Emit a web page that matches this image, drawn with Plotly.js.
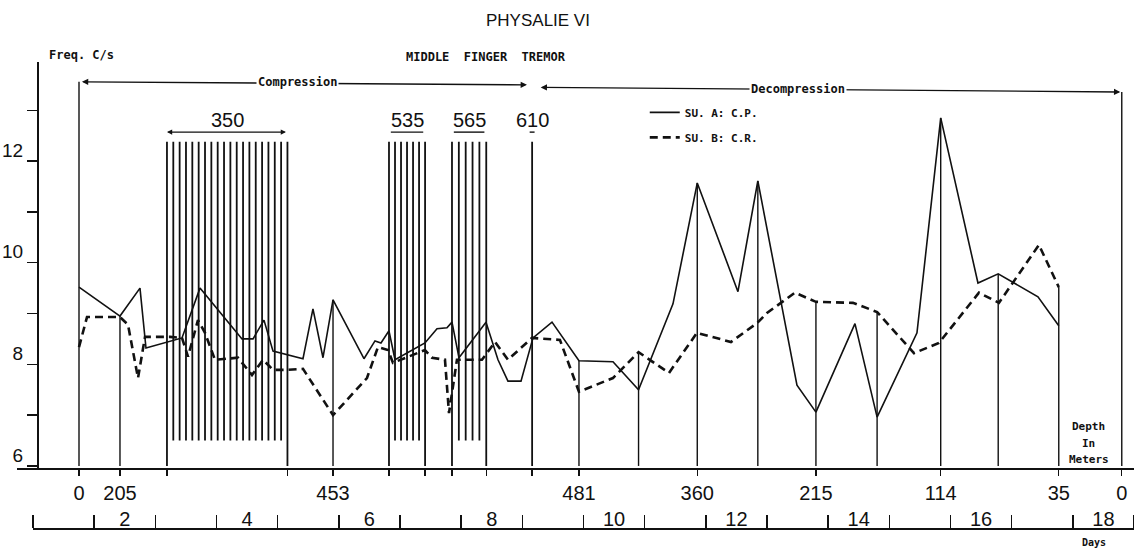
<!DOCTYPE html>
<html><head><meta charset="utf-8">
<script src="https://cdn.plot.ly/plotly-3.0.1.min.js"></script>
<style>html,body{margin:0;padding:0;background:#fff}#chart{width:1134px;height:551px}</style>
</head><body><div id="chart"></div>
<script>
// ---- data (x in days, y in c/s) ----
const suA_days = [0.752, 1.422, 1.749, 1.847, 2.436, 2.730, 3.417, 3.597, 3.776, 3.924, 4.414, 4.577, 4.741, 4.905, 5.411, 5.591, 5.689, 5.820, 5.918, 6.408, 6.605, 6.768, 6.850, 6.964, 7.406, 7.602, 7.765, 7.978, 8.174, 8.485, 8.926, 9.482, 9.900, 10.463, 10.860, 11.525, 11.850, 12.490, 12.800, 13.438, 13.800, 14.452, 14.840, 15.449, 15.780, 16.430, 16.770];
const suA_freq = [9.52, 8.95, 9.50, 8.32, 8.52, 9.50, 8.50, 8.50, 8.87, 8.26, 8.11, 9.09, 8.13, 9.27, 8.11, 8.46, 8.42, 8.66, 8.09, 8.42, 8.70, 8.72, 8.83, 8.13, 8.83, 8.09, 7.67, 7.67, 8.52, 8.83, 8.07, 8.05, 7.50, 9.19, 11.57, 9.43, 11.61, 7.59, 7.06, 8.80, 6.96, 8.62, 12.85, 9.60, 9.78, 9.33, 8.76];

const suB_days = [0.752, 0.883, 1.422, 1.553, 1.717, 1.831, 2.240, 2.436, 2.534, 2.697, 2.812, 2.975, 3.351, 3.580, 3.760, 3.924, 4.152, 4.414, 4.905, 5.460, 5.640, 5.804, 5.885, 6.408, 6.523, 6.735, 6.801, 6.931, 7.340, 7.553, 7.765, 8.158, 8.615, 8.926, 9.482, 9.900, 10.397, 10.855, 11.411, 11.836, 12.000, 12.457, 12.800, 13.405, 13.800, 14.403, 14.811, 15.465, 15.792, 16.446, 16.770];
const suB_freq = [8.34, 8.93, 8.93, 8.78, 7.73, 8.54, 8.54, 8.52, 8.15, 8.87, 8.62, 8.09, 8.13, 7.79, 8.09, 7.89, 7.89, 7.91, 7.00, 7.73, 8.34, 8.28, 8.03, 8.28, 8.13, 8.09, 7.04, 8.09, 8.09, 8.44, 8.09, 8.52, 8.48, 7.46, 7.73, 8.24, 7.83, 8.62, 8.44, 8.81, 9.01, 9.41, 9.23, 9.21, 9.03, 8.22, 8.42, 9.41, 9.21, 10.35, 9.52];

// depth (metres) labels on the time axis
const depthDays   = [0.752, 1.422, 4.905, 8.926, 10.860, 12.800, 14.840, 16.770, 17.800];
const depthLabels = ['0', '205', '453', '481', '360', '215', '114', '35', '0'];

// measurement verticals: day and top value
const readingDays = [0.752, 1.422, 4.905, 8.926, 9.900, 10.860, 11.850, 12.800, 13.800, 14.840, 15.780, 16.770, 17.800];
const readingTops = [13.56, 8.95, 9.27, 8.07, 8.24, 11.57, 11.61, 9.23, 9.03, 12.85, 9.78, 9.52, 13.36];

// depth plateaus (hatched)
const plateauLabels = ['350', '535', '565', '610'];
const plateauStart  = [2.19, 5.82, 6.85, 8.16];
const plateauEnd    = [4.16, 6.41, 7.41, 8.16];
const plateauCount  = [20, 7, 6, 1];
const plateauTop = 12.38, plateauBottom = 6.5;

// day axis
const dayNumbers = [2, 4, 6, 8, 10, 12, 14, 16, 18];
const yTickVals  = [6, 7, 8, 9, 10, 11, 12, 13];
const yTickText  = ['6', '', '8', '', '10', '', '12', ''];

// ---- build ----
const INK = '#111';
const hx = [], hy = [];
plateauLabels.forEach((lab, k) => {
  const n = plateauCount[k], s = plateauStart[k], e = plateauEnd[k];
  for (let i = 0; i < n; i++) {
    const x = n === 1 ? s : s + i * (e - s) / (n - 1);
    const edge = (i === 0 || i === n - 1);
    hx.push(x, x, null);
    hy.push(edge ? 6 : plateauBottom, plateauTop, null);
  }
});
const vx = [], vy = [];
readingDays.forEach((d, i) => { vx.push(d, d, null); vy.push(6, readingTops[i], null); });

const tickVals = depthDays.slice(), tickText = depthLabels.slice();
plateauLabels.forEach((l, k) => {
  tickVals.push(plateauStart[k]); tickText.push('');
  if (plateauEnd[k] !== plateauStart[k]) { tickVals.push(plateauEnd[k]); tickText.push(''); }
});

const traces = [
  {x: hx, y: hy, mode: 'lines', line: {color: INK, width: 1.8}, showlegend: false, hoverinfo: 'skip'},
  {x: vx, y: vy, mode: 'lines', line: {color: INK, width: 1.4}, showlegend: false, hoverinfo: 'skip'},
  {x: suA_days, y: suA_freq, mode: 'lines', name: 'SU. A: C.P.', legendgroup: 'a',
   line: {color: INK, width: 1.6}},
  {x: suB_days, y: suB_freq, mode: 'lines', name: 'SU. B: C.R.', legendgroup: 'b',
   line: {color: INK, width: 2.6, dash: '8px,5px'}},
  {x: [0], y: [null], xaxis: 'x2', yaxis: 'y', mode: 'lines', showlegend: false, hoverinfo: 'skip'}
];

const mono = {family: 'DejaVu Sans Mono', size: 12, color: INK, weight: 'bold'};
const num = {family: 'Liberation Sans', size: 20, color: INK};
const small = s => Object.assign({}, mono, {size: s});
const txt = (o) => Object.assign({showarrow: false, xanchor: 'center', yanchor: 'middle'}, o);

const annotations = [
  txt({xref: 'paper', yref: 'paper', x: 0.0573, y: 1.015, text: 'Freq. C/s', font: mono}),
  txt({xref: 'paper', yref: 'paper', x: 0.4199, y: 1.0107, text: 'MIDDLE  FINGER  TREMOR', font: mono}),
  // compression / decompression brackets
  {xref: 'x', yref: 'y', axref: 'x', ayref: 'y', x: 0.80, y: 13.56, ax: 8.10, ay: 13.50, text: '',
   showarrow: true, arrowside: 'end+start', arrowhead: 2, startarrowhead: 2, arrowsize: 0.9, startarrowsize: 0.9, arrowwidth: 1.4, arrowcolor: INK},
  {xref: 'x', yref: 'y', axref: 'x', ayref: 'y', x: 8.30, y: 13.45, ax: 17.80, ay: 13.36, text: '',
   showarrow: true, arrowside: 'end+start', arrowhead: 2, startarrowhead: 2, arrowsize: 0.9, startarrowsize: 0.9, arrowwidth: 1.4, arrowcolor: INK},
  txt({xref: 'x', yref: 'y', x: 4.32, y: 13.55, text: 'Compression', font: mono, bgcolor: '#fff'}),
  txt({xref: 'x', yref: 'y', x: 12.51, y: 13.42, text: 'Decompression', font: mono, bgcolor: '#fff'}),
  // depth / days captions
  txt({xref: 'x', yref: 'y', x: 17.26, y: 6.77, text: 'Depth', font: small(11)}),
  txt({xref: 'x', yref: 'y', x: 17.26, y: 6.45, text: 'In', font: small(11)}),
  txt({xref: 'x', yref: 'y', x: 17.26, y: 6.13, text: 'Meters', font: small(11)}),
  txt({xref: 'paper', yref: 'paper', x: 0.964, y: -0.032, text: 'Days', font: small(10)})
];
const shapes = [];
plateauLabels.forEach((lab, k) => {
  const mid = (plateauStart[k] + plateauEnd[k]) / 2;
  annotations.push(txt({xref: 'x', yref: 'y', x: mid, y: 12.81, text: lab, font: num}));
  if (plateauCount[k] > 12) {
    annotations.push({xref: 'x', yref: 'y', axref: 'x', ayref: 'y', x: plateauStart[k], y: 12.57, ax: plateauEnd[k], ay: 12.57,
      text: '', showarrow: true, arrowside: 'end+start', arrowhead: 2, startarrowhead: 2, arrowsize: 0.8, startarrowsize: 0.8, arrowwidth: 1.3, arrowcolor: INK});
  } else {
    const s = plateauEnd[k] === plateauStart[k] ? plateauStart[k] - 0.04 : plateauStart[k] + 0.03;
    const e = plateauEnd[k] === plateauStart[k] ? plateauStart[k] + 0.04 : plateauEnd[k] - 0.03;
    shapes.push({type: 'line', xref: 'x', yref: 'y', x0: s, x1: e, y0: 12.57, y1: 12.57, line: {color: INK, width: 1.4}});
  }
});

const layout = {
  width: 1134, height: 551,
  margin: {l: 17, r: 0, t: 62, b: 23},
  paper_bgcolor: '#fff', plot_bgcolor: 'rgba(0,0,0,0)',
  title: {text: 'PHYSALIE VI', x: 0.4744, y: 0.9637, xanchor: 'center', yanchor: 'middle',
          font: {family: 'Liberation Sans', size: 17, color: INK}},
  xaxis: {domain: [0, 1], range: [-0.2616, 18.0], anchor: 'y', showline: true, linecolor: INK, linewidth: 1.6,
          tickmode: 'array', tickvals: tickVals, ticktext: tickText, ticks: 'outside', ticklen: 6, tickwidth: 1.4,
          tickcolor: INK, showgrid: false, zeroline: false, tickfont: num, ticklabelstandoff: 0},
  yaxis: {domain: [0.1288, 1], range: [5.96, 13.95], anchor: 'free', position: 0.0179, showline: true,
          linecolor: INK, linewidth: 1.6, tickmode: 'array', tickvals: yTickVals, ticktext: yTickText,
          ticks: 'outside', ticklen: 10, tickwidth: 1.4, tickcolor: INK, ticklabelshift: -11,
          showgrid: false, zeroline: false, tickfont: {family: 'Liberation Sans', size: 19, color: INK}},
  xaxis2: {domain: [0.01432, 1], range: [0, 18], anchor: 'free', position: 0, side: 'top', showline: true,
           linecolor: INK, linewidth: 1.6, tickmode: 'array', tickvals: dayNumbers.map(n => n - 0.5),
           ticktext: dayNumbers.map(String), ticks: '', showgrid: false, zeroline: false, tickfont: num,
           ticklabelstandoff: -6,
           minor: {tickmode: 'linear', tick0: 0, dtick: 1, ticks: 'outside', ticklen: 13, tickwidth: 1.4, tickcolor: INK, showgrid: false}},
  showlegend: true,
  legend: {x: 0.562, y: 0.923, xanchor: 'left', yanchor: 'top', bgcolor: 'rgba(0,0,0,0)',
           traceorder: 'grouped', tracegroupgap: 6, itemwidth: 30,
           font: {family: 'DejaVu Sans Mono', size: 11, color: INK, weight: 'bold'}},
  annotations: annotations,
  shapes: shapes
};

Plotly.newPlot('chart', traces, layout, {displayModeBar: false, staticPlot: true});
</script></body></html>
